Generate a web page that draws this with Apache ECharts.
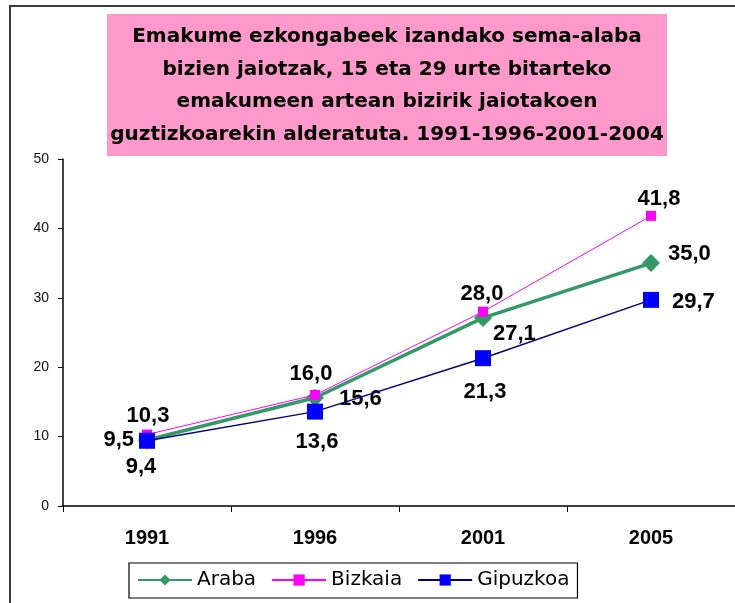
<!DOCTYPE html>
<html>
<head>
<meta charset="utf-8">
<script src="https://cdn.jsdelivr.net/npm/echarts@6/dist/echarts.min.js"></script>
<style>
html,body{margin:0;padding:0;background:#fff;}
#chart{width:735px;height:603px;}
</style>
</head>
<body>
<div id="chart"></div>
<script>
const titleLines = [
  'Emakume ezkongabeek izandako sema-alaba',
  'bizien jaiotzak, 15 eta 29 urte bitarteko',
  'emakumeen artean bizirik jaiotakoen',
  'guztizkoarekin alderatuta. 1991-1996-2001-2004'
];
const categories = ['1991', '1996', '2001', '2005'];
const seriesNames = ['Araba', 'Bizkaia', 'Gipuzkoa'];
const araba = [9.5, 15.6, 27.1, 35.0];
const bizkaia = [10.3, 16.0, 28.0, 41.8];
const gipuzkoa = [9.4, 13.6, 21.3, 29.7];
const yTicks = [0, 10, 20, 30, 40, 50];

const fmt = v => v.toFixed(1).replace('.', ',');
const labelFont = {fontFamily: 'Liberation Sans, Arial, sans-serif', fontWeight: 'bold', fontSize: 22, color: '#000'};

// label placement per point (layout only)
const arabaPos = [
  {position: 'left', distance: 4, offset: [0, 0]},
  {position: 'right', distance: 15, offset: [0, 1]},
  {position: 'right', distance: 1, offset: [0, 16]},
  {position: 'right', distance: 8, offset: [0, -9]}
];
const bizkaiaPos = [
  {position: 'top', distance: 3, offset: [1, 0]},
  {position: 'top', distance: 5, offset: [-4, 0]},
  {position: 'top', distance: 2, offset: [-1, 0]},
  {position: 'top', distance: 1, offset: [8, 0]}
];
const gipuzkoaPos = [
  {position: 'bottom', distance: 7, offset: [-6, 0]},
  {position: 'bottom', distance: 11, offset: [2, 0]},
  {position: 'bottom', distance: 15, offset: [2, 0]},
  {position: 'right', distance: 13, offset: [0, 2]}
];

function buildData(values, placements) {
  return values.map((v, i) => ({
    value: v,
    label: Object.assign({show: true, formatter: fmt(v)}, labelFont, placements[i])
  }));
}

const chart = echarts.init(document.getElementById('chart'), null, {renderer: 'canvas'});
chart.setOption({
  animation: false,
  backgroundColor: '#fff',
  title: {
    text: titleLines.map(l => '{t|' + l + '}').join('\n'),
    left: 107,
    top: 15,
    padding: [6, 0, 6, 0],
    textStyle: {
      rich: {
        t: {
          width: 560,
          align: 'center',
          fontFamily: 'DejaVu Sans, sans-serif',
          fontWeight: 'bold',
          fontSize: 20,
          lineHeight: 32.5,
          color: '#000'
        }
      }
    }
  },
  graphic: [
    {type: 'rect', silent: true, z: -1, shape: {x: 107, y: 14, width: 560, height: 142},
     style: {fill: '#FF99CC'}},
    {type: 'rect', silent: true, z: 100, shape: {x: 10, y: 6, width: 800, height: 700},
     style: {fill: 'none', stroke: '#3a3a3a', lineWidth: 2}}
  ],
  grid: {left: 63, top: 159, width: 678, height: 347, containLabel: false},
  xAxis: {
    type: 'category',
    data: categories,
    boundaryGap: true,
    axisLine: {lineStyle: {color: '#000', width: 1.5}},
    axisTick: {show: true, length: 6, lineStyle: {color: '#000'}},
    axisLabel: {margin: 22, fontFamily: 'Liberation Sans, Arial, sans-serif', fontWeight: 'bold', fontSize: 20, color: '#000'},
    splitLine: {show: false}
  },
  yAxis: {
    type: 'value',
    min: yTicks[0],
    max: yTicks[yTicks.length - 1],
    interval: yTicks[1] - yTicks[0],
    axisLine: {show: true, lineStyle: {color: '#000', width: 1.5}},
    axisTick: {show: true, length: 5, lineStyle: {color: '#000'}},
    axisLabel: {margin: 14, fontFamily: 'Liberation Sans, Arial, sans-serif', fontSize: 14, color: '#111'},
    splitLine: {show: false}
  },
  legend: {
    left: 129,
    top: 563,
    padding: [7, 8, 8, 8],
    borderColor: '#000',
    borderWidth: 1.2,
    itemWidth: 54,
    itemHeight: 14,
    itemGap: 15,
    data: seriesNames,
    textStyle: {fontFamily: 'DejaVu Sans, sans-serif', fontSize: 20, color: '#000'}
  },
  series: [
    {
      name: seriesNames[0], type: 'line', data: buildData(araba, arabaPos),
      symbol: 'diamond', symbolSize: 18,
      lineStyle: {color: '#339966', width: 3.5},
      itemStyle: {color: '#339966'}, z: 2
    },
    {
      name: seriesNames[1], type: 'line', data: buildData(bizkaia, bizkaiaPos),
      symbol: 'rect', symbolSize: 10,
      lineStyle: {color: '#FF00FF', width: 1},
      itemStyle: {color: '#FF00FF'}, z: 3
    },
    {
      name: seriesNames[2], type: 'line', data: buildData(gipuzkoa, gipuzkoaPos),
      symbol: 'rect', symbolSize: 16,
      lineStyle: {color: '#000080', width: 1.5},
      itemStyle: {color: '#0000FF'}, z: 4
    }
  ]
});
</script>
</body>
</html>
